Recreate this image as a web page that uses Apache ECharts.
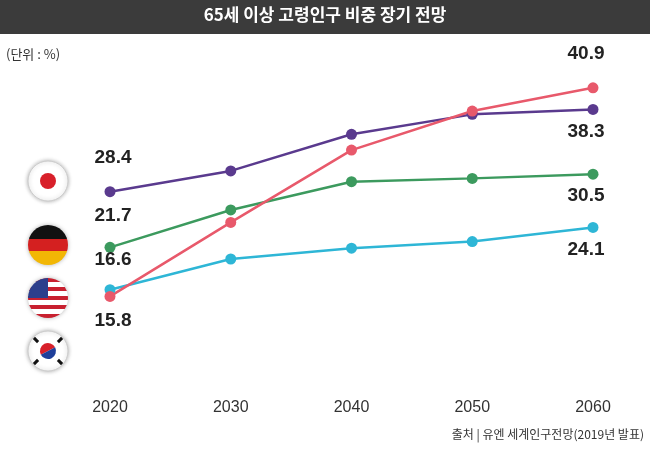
<!DOCTYPE html><html><head><meta charset="utf-8">
<script src="https://cdn.jsdelivr.net/npm/echarts@6/dist/echarts.min.js"></script>
<style>html,body{margin:0;padding:0;background:#fff}#c{width:650px;height:450px}</style></head><body><div id="c"></div>
<script>
const years=['2020','2030','2040','2050','2060'];
const japan=[28.4,30.9,35.3,37.7,38.3];
const germany=[21.7,26.2,29.6,30.0,30.5];
const usa=[16.6,20.3,21.6,22.4,24.1];
const korea=[15.8,24.7,33.4,38.1,40.9];
const F='"Noto Sans CJK KR", sans-serif';
function mk(name,data,color,firstPos,lastPos){
  return {name,type:'line',data:data.map((v,i)=>{
    const o={value:v};
    if(i===0)o.label={show:true,position:firstPos};
    if(i===data.length-1)o.label={show:true,position:lastPos};
    return o;}),
    symbol:'circle',symbolSize:11,lineStyle:{width:2.5,color},itemStyle:{color},
    label:{show:false,fontSize:19,fontWeight:'bold',color:'#222',fontFamily:'Arial, sans-serif'}};
}
function tri(cx,cy,rot){return {type:'rect',x:cx,y:cy,rotation:rot,shape:{x:-3,y:-1.5,width:6,height:3},style:{fill:'#111'}};}
const chart=echarts.init(document.getElementById('c'));
chart.setOption({
  animation:false,
  grid:{left:110,right:57,top:62,bottom:122},
  xAxis:{type:'category',data:years,boundaryGap:false,axisLine:{show:false},axisTick:{show:false},
    axisLabel:{margin:72,fontSize:16,color:'#333',fontFamily:'Arial, sans-serif'}},
  yAxis:{type:'value',min:12,max:44,show:false,splitLine:{show:false}},
  series:[
    mk('일본',japan,'#5a3a8e',[-10,-38],[-20,18]),
    mk('독일',germany,'#3c9a5e',[-10,-36],[-20,18]),
    mk('미국',usa,'#2eb6d6',[-10,-34],[-20,18]),
    mk('한국',korea,'#e8596b',[-10,20],[-20,-38])
  ],
  graphic:[
    {type:'rect',shape:{x:0,y:0,width:650,height:34},style:{fill:'#3b3b3b'}},
    {type:'text',left:'center',top:6,style:{text:'65세 이상 고령인구 비중 장기 전망',fill:'#fff',font:'bold 17px '+F}},
    {type:'text',left:6,top:48,style:{text:'(단위 : %)',fill:'#333',font:'13px '+F}},
    {type:'text',right:6,top:428,style:{text:'출처 | 유엔 세계인구전망(2019년 발표)',fill:'#333',font:'12px '+F}},
    {type:'circle',shape:{cx:48,cy:181,r:20},style:{fill:'#fff',stroke:'#ccc',lineWidth:1,shadowBlur:4,shadowColor:'rgba(0,0,0,0.3)'}},
    {type:'circle',shape:{cx:48,cy:181,r:8},style:{fill:'#d8202a'}},
    {type:'circle',shape:{cx:48,cy:245,r:20},style:{fill:{type:'linear',x:0,y:0,x2:0,y2:1,colorStops:[
      {offset:0,color:'#111'},{offset:0.34,color:'#111'},{offset:0.34,color:'#d42020'},{offset:0.66,color:'#d42020'},{offset:0.66,color:'#f2b705'},{offset:1,color:'#f2b705'}]},shadowBlur:4,shadowColor:'rgba(0,0,0,0.3)'}},
    {type:'circle',shape:{cx:48,cy:298,r:20},style:{fill:{type:'linear',x:0,y:0,x2:0,y2:1,colorStops:(()=>{const s=[];for(let i=0;i<9;i++){const c=i%2?'#fff':'#c8202f';s.push({offset:i/9,color:c},{offset:(i+1)/9,color:c});}return s;})()},shadowBlur:4,shadowColor:'rgba(0,0,0,0.3)'}},
    {type:'sector',shape:{cx:48,cy:298,r:20,r0:0,startAngle:Math.PI,endAngle:Math.PI*1.5},style:{fill:'#2c3f8c'}},
    {type:'circle',shape:{cx:48,cy:351,r:20},style:{fill:'#fff',stroke:'#ccc',lineWidth:1,shadowBlur:4,shadowColor:'rgba(0,0,0,0.3)'}},
    {type:'sector',shape:{cx:48,cy:351,r:8,r0:0,startAngle:Math.PI*0.85,endAngle:Math.PI*1.85},style:{fill:'#d8202a'}},
    {type:'sector',shape:{cx:48,cy:351,r:8,r0:0,startAngle:Math.PI*1.85,endAngle:Math.PI*2.85},style:{fill:'#1f3f9a'}},
    tri(36,340,-0.8),tri(60,340,0.8),tri(36,362,0.8),tri(60,362,-0.8)
  ]
});
</script></body></html>
